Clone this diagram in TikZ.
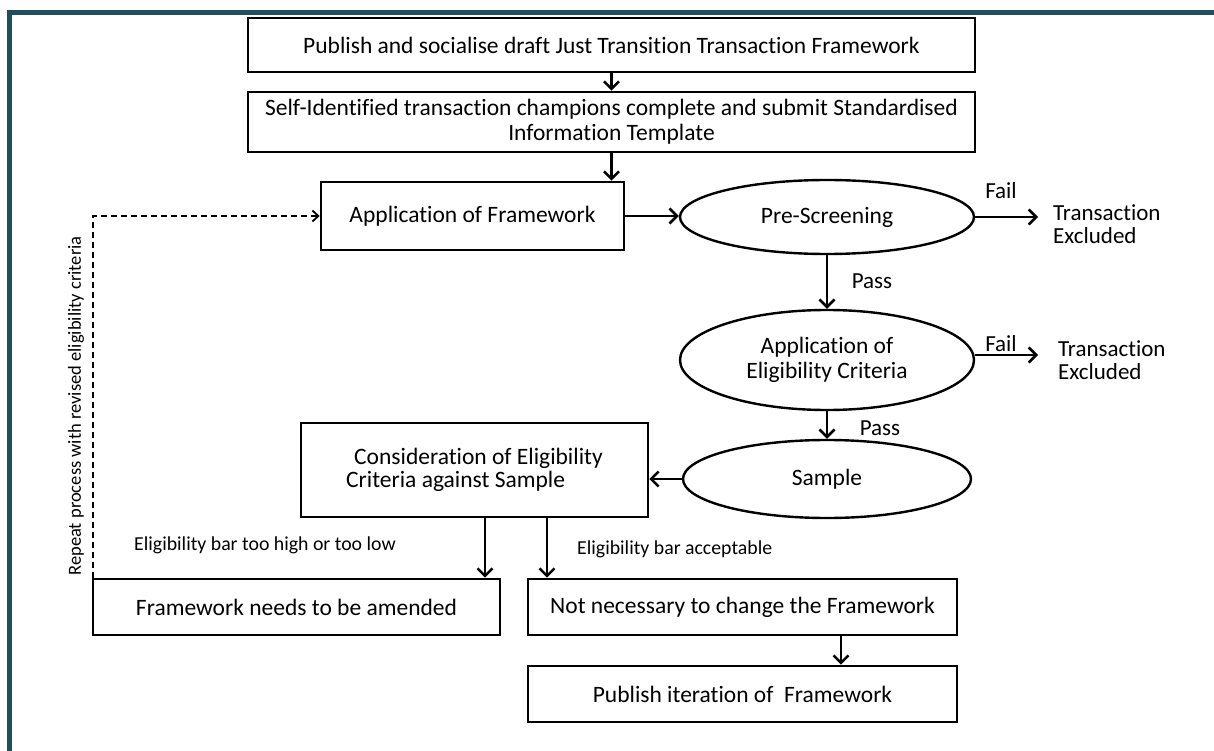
\documentclass[tikz,border=0pt]{standalone}
\usepackage{fontspec}
\setmainfont{Carlito}[Ligatures=NoCommon]
\usetikzlibrary{shapes.geometric,arrows.meta,calc}
\definecolor{framecol}{RGB}{31,78,99}
\begin{document}
\begin{tikzpicture}[x=1pt,y=-1pt,
  box/.style={draw,line width=2.6pt,rectangle,inner sep=0pt,align=center,font=\fontsize{23.5}{25}\selectfont},
  oval/.style={draw,line width=2.4pt,ellipse,inner sep=0pt,align=center,font=\fontsize{23.5}{25}\selectfont},
  arr/.style={line width=2.6pt,-{Straight Barb[length=7.5pt,width=15pt]}},
  dasharr/.style={line width=1.8pt,dash pattern=on 6pt off 4pt,-{Straight Barb[length=6pt,width=11pt]}},
  lbl/.style={inner sep=0pt,font=\fontsize{23}{23}\selectfont,align=left},
  small/.style={inner sep=0pt,font=\fontsize{19.8}{22}\selectfont}]
\useasboundingbox (0,0) rectangle (1214,751);
% frame
\fill[framecol] (7,10) rectangle (1214,15);
\fill[framecol] (7,10) rectangle (12,751);
% nodes
\node[box,minimum width=727pt,minimum height=54pt] (b1) at (611.5,45) {Publish and socialise draft Just Transition Transaction Framework};
\node[box,minimum width=727pt,minimum height=60pt] (b2) at (611.5,122) {Self-Identified transaction champions complete and submit Standardised\\Information Template};
\node[box,minimum width=303pt,minimum height=68pt] (app) at (472.5,216) {Application of Framework};
\node[oval,minimum width=294pt,minimum height=74pt] (pre) at (827,217) {Pre-Screening};
\node[oval,minimum width=294pt,minimum height=100pt] (elig) at (827,360) {Application of\\Eligibility Criteria};
\node[oval,minimum width=288pt,minimum height=78pt] (samp) at (827,479) {Sample};
\node[box,minimum width=347pt,minimum height=94pt,align=left,font=\fontsize{23.5}{22.5}\selectfont] (cons) at (474.5,470) {\hspace*{8pt}Consideration of Eligibility\\Criteria against Sample};
\node[box,minimum width=407pt,minimum height=56pt] (amend) at (296.5,607) {Framework needs to be amended};
\node[box,minimum width=429pt,minimum height=56pt] (notnec) at (742.5,607) {Not necessary to change the Framework};
\node[box,minimum width=429pt,minimum height=56pt] (publ) at (742.5,694) {Publish iteration of~ Framework};
% side labels
\node[lbl,anchor=west,inner xsep=15pt] (ex1) at (1038,224) {Transaction\\Excluded};
\node[lbl,anchor=west,inner xsep=20pt] (ex2) at (1038,360) {Transaction\\Excluded};
\node[lbl] (fail1) at (1001,191) {Fail};
\node[lbl] (fail2) at (1001,344) {Fail};
\node[lbl] (pass1) at (872,281) {Pass};
\node[lbl] (pass2) at (880,428) {Pass};
\node[small,anchor=west] (lhigh) at (134,545) {Eligibility bar too high or too low};
\node[small,anchor=west] (lacc) at (577,549) {Eligibility bar acceptable};
\node[lbl,rotate=90,font=\fontsize{18.5}{22}\selectfont] (rep) at (76,406) {Repeat process with revised eligibility criteria};
% connectors
\draw[arr] (b1.south) -- (b2.north);
\draw[arr] (b2.south) -- (b2.south |- app.north);
\draw[arr] (app.east) -- (app.east -| pre.west);
\draw[arr] (pre.east) -- (pre.east -| ex1.west);
\draw[arr] (pre.south) -- (elig.north);
\draw[arr] ([yshift=5pt]elig.east) -- ([yshift=5pt]elig.east -| ex2.west);
\draw[arr] (elig.south) -- (samp.north);
\draw[arr] (samp.west) -- (samp.west -| cons.east);
\draw[arr] ([xshift=10.5pt]cons.south) -- ([xshift=10.5pt]cons.south |- amend.north);
\draw[arr] ([xshift=72.5pt]cons.south) -- ([xshift=72.5pt]cons.south |- notnec.north);
\draw[arr] ([xshift=98.5pt]notnec.south) -- ([xshift=98.5pt]notnec.south |- publ.north);
\draw[dasharr] ([xshift=1pt]amend.north west) |- (app.west);
\end{tikzpicture}
\end{document}
